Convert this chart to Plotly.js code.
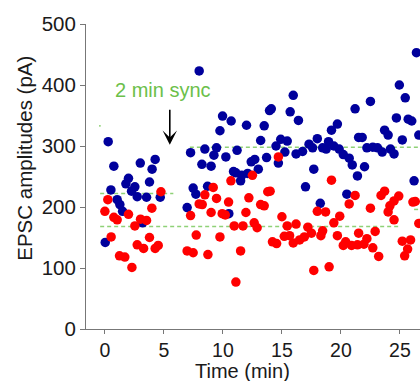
<!DOCTYPE html>
<html>
<head>
<meta charset="utf-8">
<script src="https://cdn.plot.ly/plotly-3.0.1.min.js"></script>
<style>html,body{margin:0;padding:0;background:#fff;}#chart{width:420px;height:381px;}</style>
</head>
<body>
<div id="chart"></div>
<script>
// Blue series (time in min, EPSC amplitude in pA)
var blueX = [0.03,0.28,0.51,0.76,1.04,1.27,1.50,1.78,2.0,2.26,2.54,2.74,3.0,3.19,3.53,3.78,4.0,4.26,4.69,
  6.97,7.26,7.48,7.71,7.99,8.22,8.47,8.7,9.0,9.24,9.46,9.75,9.97,10.25,10.5,10.7,10.9,11.1,11.2,11.5,11.6,12.0,12.1,12.4,12.7,13.0,13.2,13.5,13.7,13.95,14.1,14.5,14.7,14.9,15.25,15.45,15.7,15.96,16.2,16.4,16.75,17.0,17.3,17.6,17.7,18.0,18.25,18.45,18.75,18.95,19.2,19.4,19.7,19.85,20.2,20.5,20.7,20.96,21.2,21.4,21.5,21.8,22.0,22.2,22.5,22.7,23.1,23.5,23.7,24.0,24.2,24.5,24.7,24.95,25.2,25.45,25.7,26.0,26.2,26.4,26.6];
var blueY = [142,307,228,267,212,204,193,238,247,226,233,217,272,174,216,241,262,278,216,
  199,289,231,221,423,270,295,234,267,285,297,325,349,282,189,341,258,256,293,243,252,334,255,274,278,262,309,333,281,358,361,300,272,311,290,308,356,383,287,342,291,233,303,297,262,312,206,297,295,307,326,300,336,295,286,221,280,269,361,251,314,314,266,297,373,298,297,290,326,318,295,287,346,400,310,379,344,341,243,453,318];
// Red series
var redX = [0.0,0.25,0.53,0.76,1.04,1.24,1.69,2.0,2.29,2.54,2.74,3.02,3.28,3.53,3.78,3.98,4.26,4.52,4.75,
  6.97,7.26,7.48,7.74,7.99,8.25,8.47,8.73,9.0,9.18,9.46,9.75,9.94,10.2,10.48,10.68,10.96,11.1,11.5,11.7,11.95,12.2,12.5,12.65,12.9,13.2,13.5,13.8,14.0,14.2,14.55,14.7,15.0,15.2,15.45,15.65,15.96,16.2,16.5,16.9,17.2,17.5,17.7,18.0,18.3,18.45,18.7,19.0,19.2,19.4,19.7,19.9,20.2,20.4,20.7,20.9,21.2,21.4,21.5,21.95,22.2,22.5,22.7,22.9,23.2,23.4,23.7,24.0,24.15,24.5,24.5,24.9,25.2,25.4,25.65,25.9,26.1,26.3,26.6];
var redY = [193,212,151,183,179,120,118,188,101,169,138,180,132,178,150,198,132,137,225,
  128,186,125,154,205,204,220,122,191,232,214,151,189,187,208,243,169,77,128,169,191,215,252,174,166,204,202,225,226,143,140,282,184,152,169,153,141,172,146,151,167,157,96,193,153,161,192,102,244,174,153,185,137,143,205,137,219,138,157,139,148,198,133,160,119,219,226,192,202,210,179,218,144,120,131,146,208,209,173];
// Dashed mean lines: [x0, x1, y]
var meanBluePre = [-0.4, 5.8, 222];
var meanRed = [-0.4, 25.1, 168];
var meanBluePost = [7.2, 27, 298];
var meanStubTop = [-0.5, -0.35, 333];
var meanStubRight = [26.2, 26.7, 196];
var xTicks = [0,5,10,15,20,25];
var yTicks = [0,100,200,300,400,500];
var xTitle = "Time (min)";
var yTitle = "EPSC amplitudes (pA)";
var syncLabel = "2 min sync";
var syncX = 5.5;

var green = "#8fd177";
function seg(s){
  return {x:[s[0],s[1]], y:[s[2],s[2]], mode:"lines", hoverinfo:"skip", showlegend:false,
    line:{color:green, width:1.5, dash:"4px,3px"}};
}
var traces = [
  seg(meanStubTop), seg(meanBluePre), seg(meanRed), seg(meanBluePost), seg(meanStubRight),
  {x:blueX, y:blueY, mode:"markers", type:"scatter", showlegend:false,
   marker:{color:"#00009c", size:9.5, line:{width:0}}},
  {x:redX, y:redY, mode:"markers", type:"scatter", showlegend:false,
   marker:{color:"#ff0000", size:9.5, line:{width:0}}}
];
var fam = "Liberation Sans, Arial, sans-serif";
var txt = "#1a1a1a";
var layout = {
  width:420, height:381,
  margin:{l:86, r:0, t:24, b:52},
  paper_bgcolor:"#fff", plot_bgcolor:"#fff",
  showlegend:false,
  xaxis:{range:[-1.6,26.7], tickvals:xTicks, ticks:"outside", ticklen:4, tickcolor:"#777",
    showline:true, linecolor:"#777", linewidth:1, showgrid:false, zeroline:false,
    tickfont:{family:fam, color:txt, size:19.5}},
  yaxis:{range:[0,500], tickvals:yTicks, ticks:"outside", ticklen:5, tickcolor:"#777",
    showline:true, linecolor:"#777", linewidth:1, showgrid:false, zeroline:false,
    tickfont:{family:fam, color:txt, size:20.5}},
  annotations:[
    {x:-0.183, y:0.561, xref:"paper", yref:"paper", text:yTitle, textangle:-90, showarrow:false,
     xanchor:"center", yanchor:"middle", font:{family:fam, color:txt, size:20.5}},
    {x:0.47, y:-0.137, xref:"paper", yref:"paper", text:xTitle, showarrow:false,
     xanchor:"center", yanchor:"middle", borderpad:0, font:{family:fam, color:txt, size:20}},
    {x:syncX, y:302, ax:syncX, ay:362, xref:"x", yref:"y", axref:"x", ayref:"y",
     showarrow:true, arrowhead:3, arrowsize:1.5, arrowwidth:1.6, arrowcolor:"#000", text:""},
    {x:4.9, y:392, xref:"x", yref:"y", text:syncLabel, showarrow:false,
     font:{family:fam, size:20, color:"#6cc04a"}}
  ]
};
Plotly.newPlot("chart", traces, layout, {staticPlot:true, displayModeBar:false});
</script>
</body>
</html>
